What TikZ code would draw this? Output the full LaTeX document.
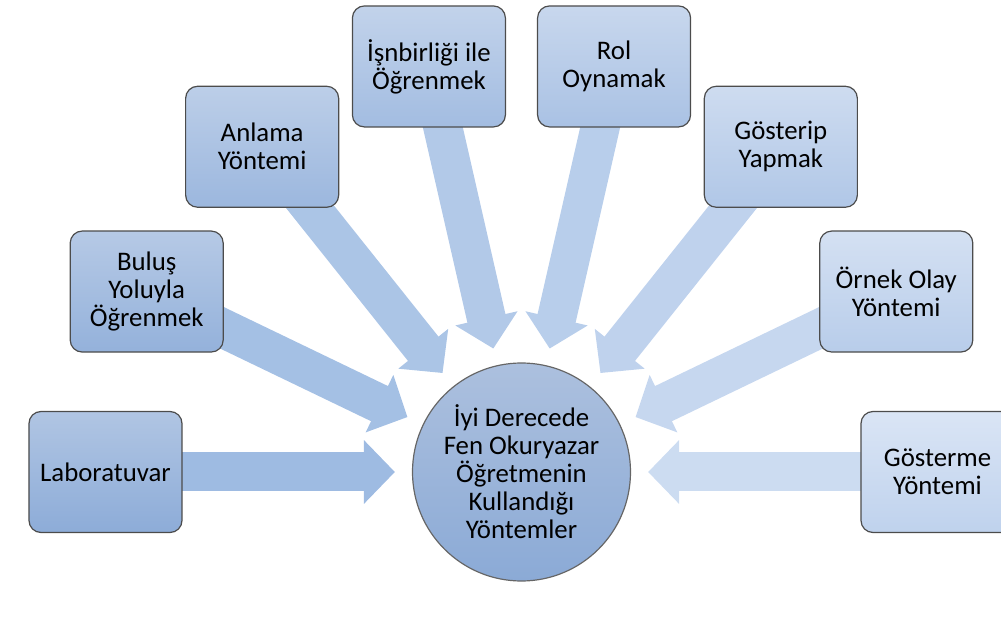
\documentclass[tikz,border=0pt]{standalone}
\usepackage{fontspec}
\setmainfont{Carlito}
\usetikzlibrary{arrows.meta,backgrounds}

% box colours, left end and right end of the fan
\definecolor{lftT}{RGB}{176,197,227}
\definecolor{lftB}{RGB}{141,172,216}
\definecolor{rgtT}{RGB}{218,229,245}
\definecolor{rgtB}{RGB}{191,210,237}
% arrow colours
\definecolor{arrL}{RGB}{158,187,226}
\definecolor{arrR}{RGB}{204,220,241}
% centre circle
\definecolor{hubT}{RGB}{172,192,222}
\definecolor{hubB}{RGB}{139,170,214}

\tikzset{
	item/.style = {rectangle, rounded corners = 12pt, draw = black!70, line width = 1.2pt,
		minimum width = 153pt, minimum height = 121pt, align = center,
		top color = lftT!#1!rgtT, bottom color = lftB!#1!rgtB},
	hub/.style = {circle, draw = black!60, line width = 1.2pt, minimum size = 218pt,
		inner sep = 0pt, align = center, top color = hubT, bottom color = hubB},
	flow/.style = {line width = 39pt, draw = arrL!#1!arrR, shorten > = 17pt,
		-{Triangle[length = 31pt 0, width = 62pt 0]}}
}

\begin{document}
\begin{tikzpicture}[x = 1pt, y = 1pt, font = \fontsize{26.8}{28}\selectfont]
	\path[use as bounding box, clip] (-521.5,-162) rectangle (479.5,472);
	\node[hub] (hub) at (0,0) {İyi Derecede\\Fen Okuryazar\\Öğretmenin\\Kullandığı\\Yöntemler};
	% boxes round the circle
	\node[item = 100] (lab) at (180:416) {Laboratuvar};
	\node[item = 86] (bulus) at (154.29:416) {Buluş\\Yoluyla\\Öğrenmek};
	\node[item = 71] (anlama) at (128.57:416) {Anlama\\Yöntemi};
	\node[item = 57] (isbir) at (102.86:416) {İşnbirliği ile\\Öğrenmek};
	\node[item = 43] (rol) at (77.14:416) {Rol\\Oynamak};
	\node[item = 29] (gosterip) at (51.43:416) {Gösterip\\Yapmak};
	\node[item = 14] (ornek) at (25.71:416) {Örnek Olay\\Yöntemi};
	\node[item = 0] (gosterme) at (0:416) {Gösterme\\Yöntemi};
	% arrows into the circle
	\begin{scope}[on background layer]
		\draw[flow = 100] (lab.center) -- (hub);
		\draw[flow = 86] (bulus.center) -- (hub);
		\draw[flow = 71] (anlama.center) -- (hub);
		\draw[flow = 57] (isbir.center) -- (hub);
		\draw[flow = 43] (rol.center) -- (hub);
		\draw[flow = 29] (gosterip.center) -- (hub);
		\draw[flow = 14] (ornek.center) -- (hub);
		\draw[flow = 0] (gosterme.center) -- (hub);
	\end{scope}
\end{tikzpicture}
\end{document}
